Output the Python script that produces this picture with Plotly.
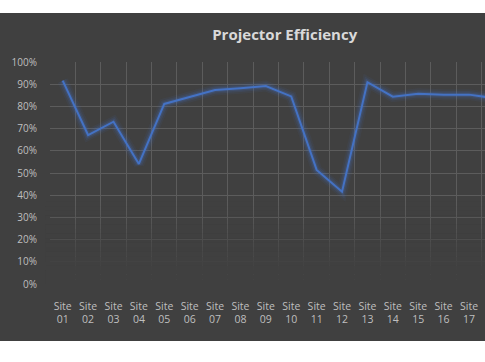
import plotly.graph_objects as go

sites = ["Site<br>%02d" % i for i in range(1, 19)]
efficiency = [0.916, 0.671, 0.731, 0.541, 0.811, 0.842, 0.874, 0.882, 0.892, 0.845,
              0.514, 0.416, 0.909, 0.844, 0.857, 0.853, 0.853, 0.837]
y_ticks = [i / 10 for i in range(0, 11)]
y_labels = ["%d%%" % (i * 10) for i in range(0, 11)]

BG = "#404040"
fig = go.Figure()

# glow
for w, op in [(11, 0.07), (7.5, 0.12), (4.5, 0.2)]:
    fig.add_trace(go.Scatter(x=sites, y=efficiency, mode="lines",
                             line=dict(color="rgba(68,114,196,%s)" % op, width=w),
                             hoverinfo="skip", showlegend=False))
fig.add_trace(go.Scatter(x=sites, y=efficiency, mode="lines",
                         line=dict(color="#4472C4", width=2), showlegend=False))

shapes = [dict(type="rect", xref="paper", yref="paper", x0=-0.2, x1=1.1,
               y0=-0.2568, y1=1.2207, fillcolor=BG, line_width=0, layer="below")]
# fade gridlines toward bottom
n = 18
top, bot = 0.37, 0.0
for k in range(n):
    y1 = top - (top - bot) * k / n
    y0 = top - (top - bot) * (k + 1) / n
    op = min(1.0, ((k + 1) / n) ** 1.2 * 1.2)
    shapes.append(dict(type="rect", xref="paper", yref="paper", x0=-0.01, x1=1.01,
                       y0=y0, y1=y1 + 0.001, fillcolor=BG, opacity=op, line_width=0,
                       layer="above"))

fig.update_layout(
    width=485, height=362,
    margin=dict(l=50, r=0, t=62, b=78),
    paper_bgcolor="white", plot_bgcolor="rgba(0,0,0,0)",
    shapes=shapes,
    title=dict(text="<b>Projector Efficiency</b>", x=0.587, xanchor="center",
               y=0.903, yanchor="middle",
               font=dict(family="Open Sans", size=15, color="#d9d9d9")),
    xaxis=dict(type="category", categoryorder="array", categoryarray=sites,
               range=[-0.5, 16.63], tickson="boundaries", showgrid=True,
               gridcolor="#5c5c5c", gridwidth=1, ticks="", showline=False,
               zeroline=False, tickangle=0, ticklabelstandoff=14,
               tickfont=dict(family="Open Sans", size=10.5, color="#bfbfbf")),
    yaxis=dict(range=[0, 1], tickvals=y_ticks, ticktext=y_labels,
               showgrid=True, gridcolor="#5c5c5c", gridwidth=1, zeroline=False,
               showline=False, ticks="", ticklabelstandoff=12,
               tickfont=dict(family="Open Sans", size=10, color="#bfbfbf")),
)

fig.write_html("out.html", config={"displayModeBar": False},
               post_script="document.body.style.margin='0';document.body.style.overflow='hidden';")
